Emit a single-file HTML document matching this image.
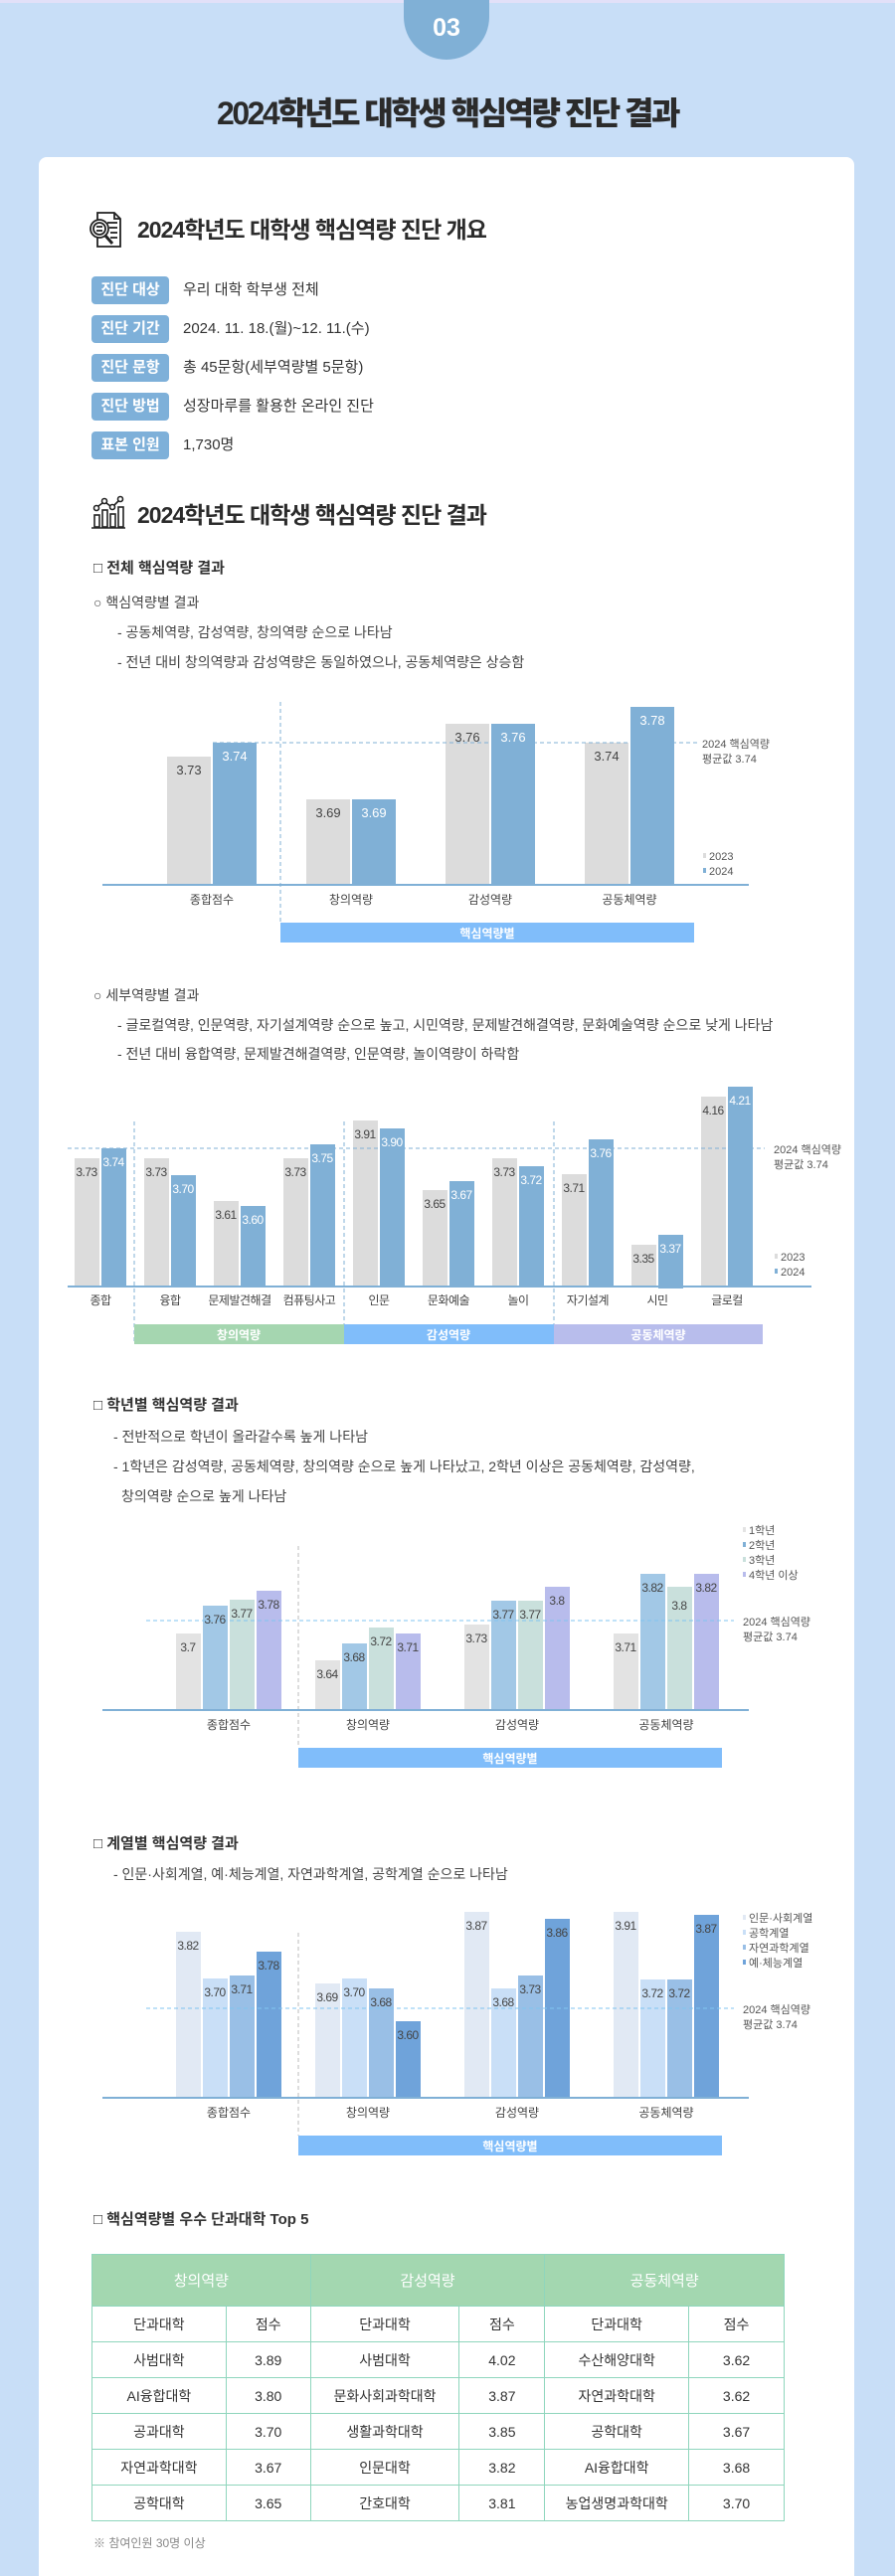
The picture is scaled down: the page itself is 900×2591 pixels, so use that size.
<!DOCTYPE html>
<html><head><meta charset="utf-8">
<style>
*{margin:0;padding:0;box-sizing:border-box}
body{width:900px;height:2591px;background:#c8def7;position:relative;overflow:hidden;font-family:"Liberation Sans","Noto Sans CJK KR",sans-serif;color:#333}
.a{position:absolute;white-space:nowrap}
.card{position:absolute;left:39px;top:158px;width:820px;height:2433px;background:#fff;border-radius:8px 8px 0 0}
.h2{font-size:23px;font-weight:bold;color:#2b2b2b;letter-spacing:-1px;line-height:28px}
.lab{position:absolute;left:92px;width:78px;height:28px;background:#7eb0d9;color:#fff;border-radius:4px;font-size:15px;font-weight:bold;text-align:center;line-height:28px}
.val{position:absolute;left:184px;font-size:15px;color:#333;line-height:28px;white-space:nowrap}
.h3{font-size:15px;font-weight:bold;color:#333;line-height:20px}
.t{font-size:14px;color:#444;line-height:20px}
table{position:absolute;left:92px;top:2267px;width:697px;border-collapse:collapse;font-size:14px;color:#333}
td,th{border:1.5px solid #8fd6bd;text-align:center}
th{background:#a3d7b0;color:#fff;font-weight:normal;font-size:15px;height:52px}
td{height:36px}
</style></head><body>
<div class="a" style="left:0;top:0;width:900px;height:3px;background:#e2e0f8"></div>
<div class="a" style="left:406px;top:0;width:86px;height:60px;background:#80b0d6;border-radius:0 0 43px 43px;color:#fff;font-weight:bold;font-size:25px;text-align:center;line-height:56px">03</div>
<div class="a" style="left:0;width:900px;top:94px;text-align:center;font-size:32px;font-weight:900;letter-spacing:-2.5px;color:#2b2b2b;line-height:40px">2024학년도 대학생 핵심역량 진단 결과</div>
<div class="card"></div>

<svg class="a" style="left:88px;top:212px" width="38" height="38" viewBox="0 0 38 38" fill="none" stroke="#222" stroke-width="1.8">
<path d="M10 2h17l6 6v28H10z"/><path d="M27 2v6h6"/><line x1="20" y1="12" x2="30" y2="12"/><line x1="22" y1="17" x2="30" y2="17"/><line x1="23" y1="22" x2="30" y2="22"/><line x1="23" y1="27" x2="30" y2="27"/>
<circle cx="12" cy="18" r="9" fill="#fff"/><circle cx="12" cy="18" r="6"/><line x1="9" y1="16" x2="15" y2="16"/><line x1="9" y1="20" x2="15" y2="20"/><line x1="18" y1="25" x2="25" y2="33" stroke-width="3"/></svg>
<div class="a h2" style="left:138px;top:217px">2024학년도 대학생 핵심역량 진단 개요</div>

<div class="lab" style="top:278px">진단 대상</div><div class="val" style="top:278px">우리 대학 학부생 전체</div>
<div class="lab" style="top:317px">진단 기간</div><div class="val" style="top:317px">2024. 11. 18.(월)~12. 11.(수)</div>
<div class="lab" style="top:356px">진단 문항</div><div class="val" style="top:356px">총 45문항(세부역량별 5문항)</div>
<div class="lab" style="top:395px">진단 방법</div><div class="val" style="top:395px">성장마루를 활용한 온라인 진단</div>
<div class="lab" style="top:434px">표본 인원</div><div class="val" style="top:434px">1,730명</div>

<svg class="a" style="left:92px;top:498px" width="34" height="34" viewBox="0 0 34 34" fill="none" stroke="#222" stroke-width="1.6">
<circle cx="5" cy="13" r="2.5"/><circle cx="13" cy="6" r="2.5"/><circle cx="21" cy="12" r="2.5"/><circle cx="29" cy="4" r="2.5"/><path d="M7 11l4-3M15 8l4 3M23 10l4-4"/>
<rect x="3" y="20" width="5" height="12"/><rect x="11" y="15" width="5" height="17"/><rect x="19" y="19" width="5" height="13"/><rect x="27" y="12" width="5" height="20"/><line x1="0" y1="33" x2="34" y2="33"/></svg>
<div class="a h2" style="left:138px;top:504px">2024학년도 대학생 핵심역량 진단 결과</div>

<div class="a h3" style="left:94px;top:562px">□ 전체 핵심역량 결과</div>
<div class="a t" style="left:94px;top:596px">○ 핵심역량별 결과</div>
<div class="a t" style="left:118px;top:626px">- 공동체역량, 감성역량, 창의역량 순으로 나타남</div>
<div class="a t" style="left:118px;top:656px">- 전년 대비 창의역량과 감성역량은 동일하였으나, 공동체역량은 상승함</div>

<div class="a t" style="left:94px;top:991px">○ 세부역량별 결과</div>
<div class="a t" style="left:118px;top:1021px">- 글로컬역량, 인문역량, 자기설계역량 순으로 높고, 시민역량, 문제발견해결역량, 문화예술역량 순으로 낮게 나타남</div>
<div class="a t" style="left:118px;top:1050px">- 전년 대비 융합역량, 문제발견해결역량, 인문역량, 놀이역량이 하락함</div>

<div class="a h3" style="left:94px;top:1404px">□ 학년별 핵심역량 결과</div>
<div class="a t" style="left:114px;top:1435px">- 전반적으로 학년이 올라갈수록 높게 나타남</div>
<div class="a t" style="left:114px;top:1465px">- 1학년은 감성역량, 공동체역량, 창의역량 순으로 높게 나타났고, 2학년 이상은 공동체역량, 감성역량,</div>
<div class="a t" style="left:122px;top:1495px">창의역량 순으로 높게 나타남</div>

<div class="a h3" style="left:94px;top:1845px">□ 계열별 핵심역량 결과</div>
<div class="a t" style="left:114px;top:1875px">- 인문·사회계열, 예·체능계열, 자연과학계열, 공학계열 순으로 나타남</div>

<div class="a h3" style="left:94px;top:2223px">□ 핵심역량별 우수 단과대학 Top 5</div>

<svg class="a" style="left:0;top:0" width="900" height="2591" font-family="Liberation Sans, Noto Sans CJK KR, sans-serif">
<g>
<line x1="282" y1="706" x2="282" y2="928" stroke="#80b0d6" stroke-dasharray="4,3"/>
<rect x="168" y="761" width="44" height="129" fill="#dcdcdc"/><rect x="214" y="747" width="44" height="143" fill="#80b0d6"/>
<rect x="308" y="804" width="44" height="86" fill="#dcdcdc"/><rect x="354" y="804" width="44" height="86" fill="#80b0d6"/>
<rect x="448" y="728" width="44" height="162" fill="#dcdcdc"/><rect x="494" y="728" width="44" height="162" fill="#80b0d6"/>
<rect x="588" y="747" width="44" height="143" fill="#dcdcdc"/><rect x="634" y="711" width="44" height="179" fill="#80b0d6"/>
<line x1="214" y1="747" x2="701" y2="747" stroke="#80b0d6" stroke-dasharray="4,3"/>
<line x1="103" y1="890" x2="753" y2="890" stroke="#80b0d6" stroke-width="2"/>
<g font-size="13" text-anchor="middle">
<text x="190" y="779" fill="#444">3.73</text><text x="236" y="765" fill="#fff">3.74</text>
<text x="330" y="822" fill="#444">3.69</text><text x="376" y="822" fill="#fff">3.69</text>
<text x="470" y="746" fill="#444">3.76</text><text x="516" y="746" fill="#fff">3.76</text>
<text x="610" y="765" fill="#444">3.74</text><text x="656" y="729" fill="#fff">3.78</text>
</g>
<g font-size="12" fill="#444" text-anchor="middle">
<text x="213" y="909">종합점수</text><text x="353" y="909">창의역량</text><text x="493" y="909">감성역량</text><text x="633" y="909">공동체역량</text></g>
<g font-size="11" fill="#555"><text x="706" y="752">2024 핵심역량</text><text x="706" y="767">평균값 3.74</text>
<rect x="707" y="858" width="3" height="5" fill="#dcdcdc"/><text x="713" y="865">2023</text>
<rect x="707" y="873" width="3" height="5" fill="#80b0d6"/><text x="713" y="880">2024</text></g>
<rect x="282" y="928" width="416" height="20" fill="#80bdfa"/>
<text x="490" y="943" font-size="12" font-weight="bold" fill="#fff" text-anchor="middle">핵심역량별</text>
</g>

<g>
<g stroke="#80b0d6" stroke-dasharray="4,3"><line x1="135" y1="1128" x2="135" y2="1352"/><line x1="346" y1="1128" x2="346" y2="1352"/><line x1="557" y1="1128" x2="557" y2="1352"/></g>
<g fill="#dcdcdc">
<rect x="75" y="1165" width="25" height="129"/><rect x="145" y="1165" width="25" height="129"/><rect x="215" y="1208" width="25" height="86"/><rect x="285" y="1165" width="25" height="129"/><rect x="355" y="1127" width="25" height="167"/><rect x="425" y="1197" width="25" height="97"/><rect x="495" y="1165" width="25" height="129"/><rect x="565" y="1181" width="25" height="113"/><rect x="635" y="1252" width="25" height="42"/><rect x="705" y="1103" width="25" height="191"/></g>
<g fill="#80b0d6">
<rect x="102" y="1155" width="25" height="139"/><rect x="172" y="1182" width="25" height="112"/><rect x="242" y="1213" width="25" height="81"/><rect x="312" y="1151" width="25" height="143"/><rect x="382" y="1135" width="25" height="159"/><rect x="452" y="1188" width="25" height="106"/><rect x="522" y="1173" width="25" height="121"/><rect x="592" y="1146" width="25" height="148"/><rect x="662" y="1242" width="25" height="54"/><rect x="732" y="1093" width="25" height="201"/></g>
<line x1="68" y1="1155" x2="769" y2="1155" stroke="#80b0d6" stroke-dasharray="4,3"/>
<line x1="68" y1="1294" x2="816" y2="1294" stroke="#80b0d6" stroke-width="2"/>
<g font-size="12" text-anchor="middle" letter-spacing="-0.5">
<g fill="#444"><text x="87" y="1183">3.73</text><text x="157" y="1183">3.73</text><text x="227" y="1226">3.61</text><text x="297" y="1183">3.73</text><text x="367" y="1145">3.91</text><text x="437" y="1215">3.65</text><text x="507" y="1183">3.73</text><text x="577" y="1199">3.71</text><text x="647" y="1270">3.35</text><text x="717" y="1121">4.16</text></g>
<g fill="#fff"><text x="114" y="1173">3.74</text><text x="184" y="1200">3.70</text><text x="254" y="1231">3.60</text><text x="324" y="1169">3.75</text><text x="394" y="1153">3.90</text><text x="464" y="1206">3.67</text><text x="534" y="1191">3.72</text><text x="604" y="1164">3.76</text><text x="674" y="1260">3.37</text><text x="744" y="1111">4.21</text></g>
</g>
<g font-size="12" fill="#444" text-anchor="middle" letter-spacing="-0.5">
<text x="101" y="1312">종합</text><text x="171" y="1312">융합</text><text x="241" y="1312">문제발견해결</text><text x="311" y="1312">컴퓨팅사고</text><text x="381" y="1312">인문</text><text x="451" y="1312">문화예술</text><text x="521" y="1312">놀이</text><text x="591" y="1312">자기설계</text><text x="661" y="1312">시민</text><text x="731" y="1312">글로컬</text></g>
<g font-size="11" fill="#555"><text x="778" y="1160">2024 핵심역량</text><text x="778" y="1175">평균값 3.74</text>
<rect x="779" y="1261" width="3" height="5" fill="#dcdcdc"/><text x="785" y="1268">2023</text>
<rect x="779" y="1276" width="3" height="5" fill="#80b0d6"/><text x="785" y="1283">2024</text></g>
<rect x="135" y="1332" width="211" height="20" fill="#a5d6b0"/><rect x="346" y="1332" width="211" height="20" fill="#80bdfa"/><rect x="557" y="1332" width="210" height="20" fill="#b8bdec"/>
<g font-size="12" font-weight="bold" fill="#fff" text-anchor="middle"><text x="240" y="1347">창의역량</text><text x="451" y="1347">감성역량</text><text x="662" y="1347">공동체역량</text></g>
</g>

<g>
<line x1="300" y1="1555" x2="300" y2="1758" stroke="#bbb" stroke-dasharray="4,3"/>
<g>
<rect x="177" y="1643" width="25" height="77" fill="#e3e3e3"/><rect x="204" y="1615" width="25" height="105" fill="#a2c8e6"/><rect x="231" y="1609" width="25" height="111" fill="#c9e0dc"/><rect x="258" y="1600" width="25" height="120" fill="#b8bcec"/>
<rect x="317" y="1670" width="25" height="50" fill="#e3e3e3"/><rect x="344" y="1653" width="25" height="67" fill="#a2c8e6"/><rect x="371" y="1637" width="25" height="83" fill="#c9e0dc"/><rect x="398" y="1643" width="25" height="77" fill="#b8bcec"/>
<rect x="467" y="1634" width="25" height="86" fill="#e3e3e3"/><rect x="494" y="1610" width="25" height="110" fill="#a2c8e6"/><rect x="521" y="1610" width="25" height="110" fill="#c9e0dc"/><rect x="548" y="1596" width="25" height="124" fill="#b8bcec"/>
<rect x="617" y="1643" width="25" height="77" fill="#e3e3e3"/><rect x="644" y="1583" width="25" height="137" fill="#a2c8e6"/><rect x="671" y="1596" width="25" height="124" fill="#c9e0dc"/><rect x="698" y="1583" width="25" height="137" fill="#b8bcec"/>
</g>
<line x1="147" y1="1630" x2="738" y2="1630" stroke="#80c4f0" stroke-dasharray="4,3"/>
<line x1="103" y1="1720" x2="753" y2="1720" stroke="#80b0d6" stroke-width="2"/>
<g font-size="12" fill="#444" text-anchor="middle" letter-spacing="-0.5">
<text x="189" y="1661">3.7</text><text x="216" y="1633">3.76</text><text x="243" y="1627">3.77</text><text x="270" y="1618">3.78</text>
<text x="329" y="1688">3.64</text><text x="356" y="1671">3.68</text><text x="383" y="1655">3.72</text><text x="410" y="1661">3.71</text>
<text x="479" y="1652">3.73</text><text x="506" y="1628">3.77</text><text x="533" y="1628">3.77</text><text x="560" y="1614">3.8</text>
<text x="629" y="1661">3.71</text><text x="656" y="1601">3.82</text><text x="683" y="1619">3.8</text><text x="710" y="1601">3.82</text></g>
<g font-size="12" fill="#444" text-anchor="middle"><text x="230" y="1739">종합점수</text><text x="370" y="1739">창의역량</text><text x="520" y="1739">감성역량</text><text x="670" y="1739">공동체역량</text></g>
<g font-size="11" fill="#555"><text x="747" y="1635">2024 핵심역량</text><text x="747" y="1650">평균값 3.74</text>
<rect x="747" y="1536" width="3" height="5" fill="#e3e3e3"/><text x="753" y="1543">1학년</text>
<rect x="747" y="1551" width="3" height="5" fill="#80b0d6"/><text x="753" y="1558">2학년</text>
<rect x="747" y="1566" width="3" height="5" fill="#c9e0dc"/><text x="753" y="1573">3학년</text>
<rect x="747" y="1581" width="3" height="5" fill="#b8bcec"/><text x="753" y="1588">4학년 이상</text></g>
<rect x="300" y="1758" width="426" height="20" fill="#80bdfa"/>
<text x="513" y="1773" font-size="12" font-weight="bold" fill="#fff" text-anchor="middle">핵심역량별</text>
</g>

<g>
<line x1="300" y1="1944" x2="300" y2="2148" stroke="#bbb" stroke-dasharray="4,3"/>
<rect x="177" y="1943" width="25" height="167" fill="#e1e9f4"/><rect x="204" y="1990" width="25" height="120" fill="#c9dff7"/><rect x="231" y="1987" width="25" height="123" fill="#99bfe6"/><rect x="258" y="1963" width="25" height="147" fill="#6fa3da"/>
<rect x="317" y="1995" width="25" height="115" fill="#e1e9f4"/><rect x="344" y="1990" width="25" height="120" fill="#c9dff7"/><rect x="371" y="2000" width="25" height="110" fill="#99bfe6"/><rect x="398" y="2033" width="25" height="77" fill="#6fa3da"/>
<rect x="467" y="1923" width="25" height="187" fill="#e1e9f4"/><rect x="494" y="2000" width="25" height="110" fill="#c9dff7"/><rect x="521" y="1987" width="25" height="123" fill="#99bfe6"/><rect x="548" y="1930" width="25" height="180" fill="#6fa3da"/>
<rect x="617" y="1923" width="25" height="187" fill="#e1e9f4"/><rect x="644" y="1991" width="25" height="119" fill="#c9dff7"/><rect x="671" y="1991" width="25" height="119" fill="#99bfe6"/><rect x="698" y="1926" width="25" height="184" fill="#6fa3da"/>
<line x1="147" y1="2020" x2="738" y2="2020" stroke="#80c4f0" stroke-dasharray="4,3"/>
<line x1="103" y1="2110" x2="753" y2="2110" stroke="#80b0d6" stroke-width="2"/>
<g font-size="12" fill="#444" text-anchor="middle" letter-spacing="-0.5">
<text x="189" y="1961">3.82</text><text x="216" y="2008">3.70</text><text x="243" y="2005">3.71</text><text x="270" y="1981">3.78</text>
<text x="329" y="2013">3.69</text><text x="356" y="2008">3.70</text><text x="383" y="2018">3.68</text><text x="410" y="2051">3.60</text>
<text x="479" y="1941">3.87</text><text x="506" y="2018">3.68</text><text x="533" y="2005">3.73</text><text x="560" y="1948">3.86</text>
<text x="629" y="1941">3.91</text><text x="656" y="2009">3.72</text><text x="683" y="2009">3.72</text><text x="710" y="1944">3.87</text></g>
<g font-size="12" fill="#444" text-anchor="middle"><text x="230" y="2129">종합점수</text><text x="370" y="2129">창의역량</text><text x="520" y="2129">감성역량</text><text x="670" y="2129">공동체역량</text></g>
<g font-size="11" fill="#555"><text x="747" y="2025">2024 핵심역량</text><text x="747" y="2040">평균값 3.74</text>
<rect x="747" y="1926" width="3" height="5" fill="#e1e9f4"/><text x="753" y="1933">인문·사회계열</text>
<rect x="747" y="1941" width="3" height="5" fill="#c9dff7"/><text x="753" y="1948">공학계열</text>
<rect x="747" y="1956" width="3" height="5" fill="#99bfe6"/><text x="753" y="1963">자연과학계열</text>
<rect x="747" y="1971" width="3" height="5" fill="#6fa3da"/><text x="753" y="1978">예·체능계열</text></g>
<rect x="300" y="2148" width="426" height="20" fill="#80bdfa"/>
<text x="513" y="2163" font-size="12" font-weight="bold" fill="#fff" text-anchor="middle">핵심역량별</text>
</g>
</svg>

<table>
<colgroup><col style="width:135px"><col style="width:85px"><col style="width:150px"><col style="width:86px"><col style="width:145px"><col style="width:96px"></colgroup>
<tr><th colspan="2">창의역량</th><th colspan="2">감성역량</th><th colspan="2">공동체역량</th></tr>
<tr><td style="height:33px">단과대학</td><td>점수</td><td>단과대학</td><td>점수</td><td>단과대학</td><td>점수</td></tr>
<tr><td>사범대학</td><td>3.89</td><td>사범대학</td><td>4.02</td><td>수산해양대학</td><td>3.62</td></tr>
<tr><td>AI융합대학</td><td>3.80</td><td>문화사회과학대학</td><td>3.87</td><td>자연과학대학</td><td>3.62</td></tr>
<tr><td>공과대학</td><td>3.70</td><td>생활과학대학</td><td>3.85</td><td>공학대학</td><td>3.67</td></tr>
<tr><td>자연과학대학</td><td>3.67</td><td>인문대학</td><td>3.82</td><td>AI융합대학</td><td>3.68</td></tr>
<tr><td>공학대학</td><td>3.65</td><td>간호대학</td><td>3.81</td><td>농업생명과학대학</td><td>3.70</td></tr>
</table>
<div class="a" style="left:94px;top:2549px;font-size:12px;color:#888">※ 참여인원 30명 이상</div>
</body></html>
